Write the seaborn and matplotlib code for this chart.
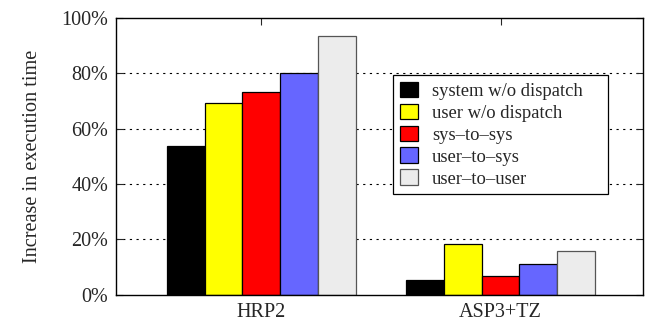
import matplotlib
matplotlib.use("Agg")
import matplotlib.pyplot as plt
import seaborn as sns
import pandas as pd
from matplotlib.ticker import FuncFormatter

categories = ["HRP2", "ASP3+TZ"]
series = ["system w/o dispatch", "user w/o dispatch", "sys\u2013to\u2013sys", "user\u2013to\u2013sys", "user\u2013to\u2013user"]
values = {
    "system w/o dispatch": [53.8, 5.4],
    "user w/o dispatch": [69.1, 18.2],
    "sys\u2013to\u2013sys": [73.3, 6.7],
    "user\u2013to\u2013sys": [80.0, 11.2],
    "user\u2013to\u2013user": [93.3, 15.8],
}
colors = ["#000000", "#ffff00", "#ff0000", "#6666ff", "#ececec"]
yticks = [0, 20, 40, 60, 80, 100]

rows = []
for s in series:
    for c, v in zip(categories, values[s]):
        rows.append({"cat": c, "series": s, "val": v})
df = pd.DataFrame(rows)

sns.set_style("white")
plt.rcParams["font.family"] = ["Liberation Serif", "DejaVu Serif"]
plt.rcParams["font.size"] = 14

fig = plt.figure(figsize=(6.51, 3.23), dpi=100)
ax = fig.add_axes([0.1787, 0.087, 0.8093, 0.858])

for y in yticks[1:-1]:
    ax.axhline(y, color="black", lw=0.8, ls=(0, (2, 4)), zorder=0)

sns.barplot(data=df, x="cat", y="val", hue="series", hue_order=series,
            palette=colors, width=0.79, edgecolor="black", linewidth=0.9,
            saturation=1, ax=ax, zorder=2, legend=True)
for p in ax.patches:
    fc = p.get_facecolor()
    if abs(fc[0] - 0xec / 255) < 0.01 and abs(fc[2] - 0xec / 255) < 0.01:
        p.set_edgecolor("#555555")

ax.set_ylim(0, 100)
ax.set_xlim(-0.606, 1.596)
ax.set_yticks(yticks)
ax.yaxis.set_major_formatter(FuncFormatter(lambda v, p: f"{int(v)}%"))
ax.set_xlabel("")
ax.set_ylabel("Increase in execution time", fontsize=14.6, labelpad=14)
ax.tick_params(axis="both", direction="in", length=5, width=0.8, labelsize=14.5,
               top=True, right=True, bottom=True, left=True, pad=6)
for sp in ax.spines.values():
    sp.set_visible(True)
    sp.set_color("black")
    sp.set_linewidth(1.0)

leg = ax.legend(loc="upper left", bbox_to_anchor=(0.526, 0.3688, 0.4066, 0.4247),
                mode="expand", frameon=True,
                fancybox=False, edgecolor="black", framealpha=1, fontsize=13.4,
                handlelength=0.95, handleheight=0.91, handletextpad=0.75,
                labelspacing=0.2, borderpad=0.36, borderaxespad=0)
leg.get_frame().set_linewidth(0.9)

fig.savefig("out.png", dpi=100)
